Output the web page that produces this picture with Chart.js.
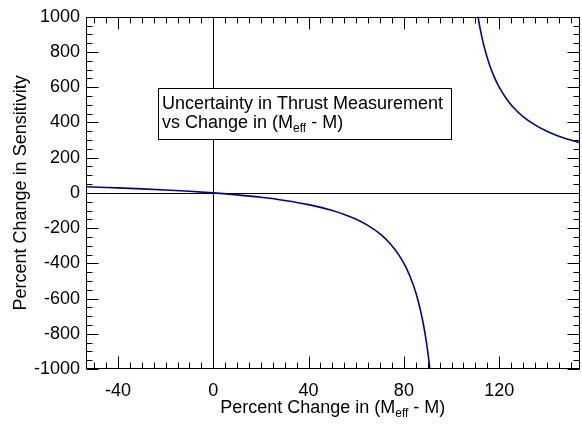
<!DOCTYPE html>
<html>
<head>
<meta charset="utf-8">
<script src="https://cdn.jsdelivr.net/npm/chart.js@4/dist/chart.umd.min.js"></script>
<style>
  html, body { margin: 0; padding: 0; background: #fff; }
  canvas { display: block; }
</style>
</head>
<body>
<canvas id="sensChart" width="582" height="425"></canvas>
<script>
// Curve, two branches either side of the jump near 100
const xLeft = [-53, -45, -40, -30, -20, -10, 0, 10, 20, 30, 40, 50, 55, 60, 65, 70, 74, 78, 81, 84, 86, 88, 89, 90, 90.9];
const yLeft = [34.6, 31, 28.6, 23.1, 16.7, 9.1, 0, -11.1, -25, -42.9, -66.7, -100, -122, -150, -186, -233, -285, -355, -426, -525, -614, -733, -809, -900, -999];
const xRight = [111, 112, 113, 114, 115, 116, 118, 120, 123, 126, 130, 135, 140, 145, 150, 153.7];
const yRight = [1009, 933, 869, 814, 767, 725, 656, 600, 535, 485, 433, 386, 350, 322, 300, 286];

const xTicks = [-40, 0, 40, 80, 120];
const yTicks = [-1000, -800, -600, -400, -200, 0, 200, 400, 600, 800, 1000];

const FONT = '"Liberation Sans", Arial, Helvetica, sans-serif';
Chart.defaults.font.family = FONT;
Chart.defaults.color = "#000";

function drawRich(ctx, parts, x, y, align) {
  // parts: [{t, sub}] ; draws text with subscript pieces on baseline y
  const big = "18px " + FONT, small = "12px " + FONT;
  let w = 0;
  parts.forEach(p => { ctx.font = p.sub ? small : big; w += ctx.measureText(p.t).width; });
  let cx = align === "center" ? x - w / 2 : x;
  ctx.textAlign = "left";
  ctx.textBaseline = "alphabetic";
  parts.forEach(p => {
    ctx.font = p.sub ? small : big;
    ctx.fillText(p.t, cx, p.sub ? y + 4 : y);
    cx += ctx.measureText(p.t).width;
  });
}

const framePlugin = {
  id: "frameTicks",
  beforeDatasetsDraw(chart) {
    const { ctx, chartArea: a, scales: { x, y } } = chart;
    ctx.save();
    ctx.strokeStyle = "#000";
    ctx.lineWidth = 1;
    const x0 = Math.round(x.getPixelForValue(0)) + 0.5;
    const y0 = Math.round(y.getPixelForValue(0)) + 0.5;
    ctx.beginPath();
    ctx.moveTo(x0, a.top); ctx.lineTo(x0, a.bottom);
    ctx.moveTo(a.left, y0); ctx.lineTo(a.right, y0);
    ctx.stroke();
    ctx.restore();
  },
  afterDatasetsDraw(chart) {
    const { ctx, chartArea: a, scales: { x, y } } = chart;
    ctx.save();
    ctx.strokeStyle = "#000";
    ctx.lineWidth = 1;
    const L = Math.round(a.left) + 0.5, R = Math.round(a.right) - 0.5;
    const T = Math.round(a.top) + 0.5, B = Math.round(a.bottom) - 0.5;
    ctx.strokeRect(L, T, R - L, B - T);

    ctx.beginPath();
    // x ticks every 5, long ones on the labelled values
    for (let v = -50; v <= 150; v += 5) {
      const len = xTicks.includes(v) ? 12 : 6;
      const px = Math.round(x.getPixelForValue(v)) + 0.5;
      ctx.moveTo(px, B); ctx.lineTo(px, B - len);
      ctx.moveTo(px, T); ctx.lineTo(px, T + len);
    }
    // y ticks every 50
    for (let v = -1000; v <= 1000; v += 50) {
      const len = yTicks.includes(v) ? 12 : 6;
      const py = Math.round(y.getPixelForValue(v)) + 0.5;
      ctx.moveTo(L, py); ctx.lineTo(L + len, py);
      ctx.moveTo(R, py); ctx.lineTo(R - len, py);
    }
    ctx.stroke();

    // annotation box
    ctx.fillStyle = "#fff";
    ctx.fillRect(158.5, 88.5, 293, 51);
    ctx.strokeRect(158.5, 88.5, 293, 51);
    ctx.fillStyle = "#000";
    drawRich(ctx, [{ t: "Uncertainty in Thrust Measurement" }], 162, 109, "left");
    drawRich(ctx, [{ t: "vs Change in (M" }, { t: "eff", sub: true }, { t: " - M)" }], 162, 127.5, "left");

    // axis titles
    drawRich(ctx, [{ t: "Percent Change in (M" }, { t: "eff", sub: true }, { t: " - M)" }],
      (a.left + a.right) / 2, 413, "center");
    ctx.translate(26, (a.top + a.bottom) / 2);
    ctx.rotate(-Math.PI / 2);
    drawRich(ctx, [{ t: "Percent Change in Sensitivity" }], 0, 0, "center");
    ctx.restore();
  }
};

const chart = new Chart(document.getElementById("sensChart"), {
  type: "scatter",
  data: {
    datasets: [
      {
        data: xLeft.map((v, i) => ({ x: v, y: yLeft[i] })),
        showLine: true,
        borderColor: "#00009c",
        borderWidth: 1.6,
        pointRadius: 0,
        cubicInterpolationMode: "monotone"
      },
      {
        data: xRight.map((v, i) => ({ x: v, y: yRight[i] })),
        showLine: true,
        borderColor: "#00009c",
        borderWidth: 1.6,
        pointRadius: 0,
        cubicInterpolationMode: "monotone"
      }
    ]
  },
  options: {
    responsive: false,
    animation: false,
    layout: { padding: { top: 16, right: 2.5, left: 0, bottom: 0 } },
    plugins: { legend: { display: false }, tooltip: { enabled: false } },
    scales: {
      x: {
        type: "linear",
        min: -53.4,
        max: 153.7,
        afterBuildTicks: s => { s.ticks = xTicks.map(v => ({ value: v })); },
        afterFit: s => { s.height = 56; },
        grid: { display: false, drawTicks: false },
        border: { display: false },
        ticks: { font: { size: 18 }, color: "#000", padding: 11, maxRotation: 0,
                 callback: v => String(v) }
      },
      y: {
        min: -1000,
        max: 1000,
        afterBuildTicks: s => { s.ticks = yTicks.map(v => ({ value: v })); },
        afterFit: s => { s.width = 86; },
        grid: { display: false, drawTicks: false },
        border: { display: false },
        ticks: { font: { size: 18 }, color: "#000", padding: 6,
                 callback: v => String(v) }
      }
    }
  },
  plugins: [framePlugin]
});
</script>
</body>
</html>
